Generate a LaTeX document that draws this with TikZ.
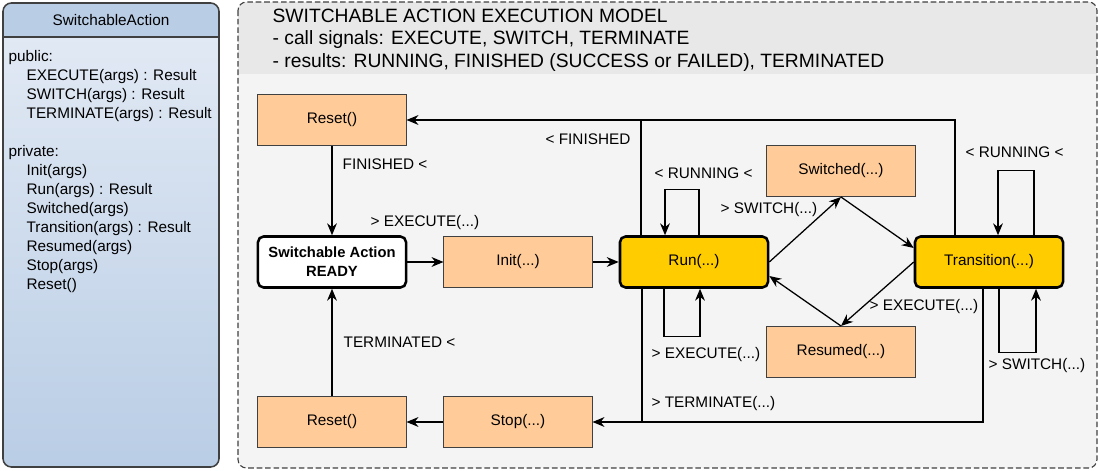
\documentclass[tikz,border=0pt]{standalone}
\usepackage{fontspec}
\setmainfont{Liberation Sans}
\usetikzlibrary{arrows.meta,calc,positioning}

\definecolor{peach}{RGB}{255,204,153}
\definecolor{gold}{RGB}{255,204,0}
\definecolor{boxline}{RGB}{64,64,64}
\definecolor{umlhead}{RGB}{185,205,229}
\definecolor{umltop}{RGB}{228,235,245}
\definecolor{modelhead}{RGB}{232,232,232}
\definecolor{modelbody}{RGB}{244,244,244}

\tikzset{
  fnbox/.style={draw=boxline, fill=peach, line width=0.7pt, minimum width=3.7cm, minimum height=1.275cm, inner sep=0pt},
  statebox/.style={fnbox, draw=black, rounded corners=4pt, line width=1.8pt},
  lbl/.style={anchor=west, inner sep=0pt},
}

\begin{document}
\begin{tikzpicture}[x=0.025cm, y=-0.025cm, >={Stealth[length=8.5pt,width=7pt]}, line width=0.9pt,
    font=\fontsize{10.9}{13.5}\selectfont]

	\useasboundingbox (0,0) rectangle (1099,471);
	
	% class box
	\begin{scope}
		\clip[rounded corners=6pt] (3,3) rectangle (219,467);
		\shade[top color=umltop, bottom color=umlhead] (3,3) rectangle (219,467);
		\fill[umlhead] (3,3) rectangle (219,37);
	\end{scope}
	\draw[boxline, line width=1.1pt, rounded corners=6pt] (3,3) rectangle (219,467);
	\draw[boxline, line width=1.1pt] (3,37) -- (219,37);
	\node (clsname) at (111,20) {SwitchableAction};
	\node[anchor=north west, align=left, inner sep=0pt] (members) at (8,50)
	{public:\\
		\hspace{0.45cm}EXECUTE(args) : Result\\
		\hspace{0.45cm}SWITCH(args) : Result\\
		\hspace{0.45cm}TERMINATE(args) : Result\\[13.5pt]
		private:\\
		\hspace{0.45cm}Init(args)\\
		\hspace{0.45cm}Run(args) : Result\\
		\hspace{0.45cm}Switched(args)\\
		\hspace{0.45cm}Transition(args) : Result\\
		\hspace{0.45cm}Resumed(args)\\
		\hspace{0.45cm}Stop(args)\\
		\hspace{0.45cm}Reset()};
	
	% model frame
	\begin{scope}
		\clip[rounded corners=6pt] (238,2) rectangle (1097,468);
		\fill[modelbody] (238,2) rectangle (1097,468);
		\fill[modelhead] (238,2) rectangle (1097,74);
	\end{scope}
	\draw[black!75, line width=0.8pt, dash pattern=on 4pt off 2pt, rounded corners=6pt] (238,2) rectangle (1097,468);
	\node[lbl, font=\fontsize{13.7}{16.7}\selectfont] (title) at (272,16) {SWITCHABLE ACTION EXECUTION MODEL};
	\node[lbl, font=\fontsize{13.7}{16.7}\selectfont] (signals) at (272,40) {- call signals: EXECUTE, SWITCH, TERMINATE};
	\node[lbl, font=\fontsize{13.7}{16.7}\selectfont] (results) at (272,63) {- results: RUNNING, FINISHED (SUCCESS or FAILED), TERMINATED};
	
	% states
	\node[fnbox] (resettop) at (332,120) {Reset()};
	\node[statebox, fill=white, align=center, font=\fontsize{10.5}{13.5}\selectfont\bfseries] (ready) at (332,262) {Switchable Action\\READY};
	\node[fnbox] (init) at (518,262) {Init(...)};
	\node[statebox, fill=gold] (run) at (694,262) {Run(...)};
	\node[fnbox] (switched) at (841,171) {Switched(...)};
	\node[statebox, fill=gold] (trans) at (989,262) {Transition(...)};
	\node[fnbox] (resumed) at (841,352) {Resumed(...)};
	\node[fnbox] (resetbot) at (332,422) {Reset()};
	\node[fnbox] (stop) at (518,422) {Stop(...)};
	
	\coordinate (runup) at ($(run.north)+(-53,0)$);
	\coordinate (transup) at ($(trans.north)+(-34,0)$);
	\coordinate (rundown) at ($(run.south)+(-52,0)$);
	\coordinate (transdown) at ($(trans.south)+(-6,0)$);
	
	% connectors
	\draw[->] (resettop) -- (ready);
	\draw[->] (ready) -- (init);
	\draw[->] (init) -- (run);
	\draw[->] (runup) |- (resettop.east);
	\draw (transup) |- (runup |- resettop.east);
	\draw[->] ($(run.north)+(5,0)$) -- ++(0,-46) -| ($(run.north)+(-29,0)$);
	\draw[->] ($(run.south)+(-30,0)$) -- ++(0,48) -| ($(run.south)+(6,0)$);
	\draw[->] (run.east) -- (switched.south);
	\draw[->] (switched.south) -- ($(trans.west)+(0,-14)$);
	\draw[->] (trans.west) -- (resumed.north);
	\draw[->] (resumed.north) -- ($(run.east)+(0,14)$);
	\draw[->] ($(trans.north)+(45,0)$) -- ++(0,-65) -| ($(trans.north)+(9,0)$);
	\draw[->] ($(trans.south)+(10,0)$) -- ++(0,64) -| ($(trans.south)+(47,0)$);
	\draw[->] (rundown) |- (stop.east);
	\draw (transdown) |- (rundown |- stop.east);
	\draw[->] (stop) -- (resetbot);
	\draw[->] (resetbot) -- (ready);
	
	% signal labels
	\node[lbl] (lfinready) at (342,164) {FINISHED <};
	\node[lbl] (lexecinit) at (370,223) {> EXECUTE(...)};
	\node[lbl] (lfinreset) at (545,139) {< FINISHED};
	\node[lbl] (lrunrun) at (654,173) {< RUNNING <};
	\node[lbl] (lswitch) at (720,210) {> SWITCH(...)};
	\node[lbl] (lruntrans) at (965,152) {< RUNNING <};
	\node[lbl] (lexecres) at (869,307) {> EXECUTE(...)};
	\node[lbl] (lexecrun) at (651,355) {> EXECUTE(...)};
	\node[lbl] (lswitchtrans) at (988,366) {> SWITCH(...)};
	\node[lbl] (lterm) at (651,404) {> TERMINATE(...)};
	\node[lbl] (lterminated) at (343,342) {TERMINATED <};
	
\end{tikzpicture}
\end{document}
